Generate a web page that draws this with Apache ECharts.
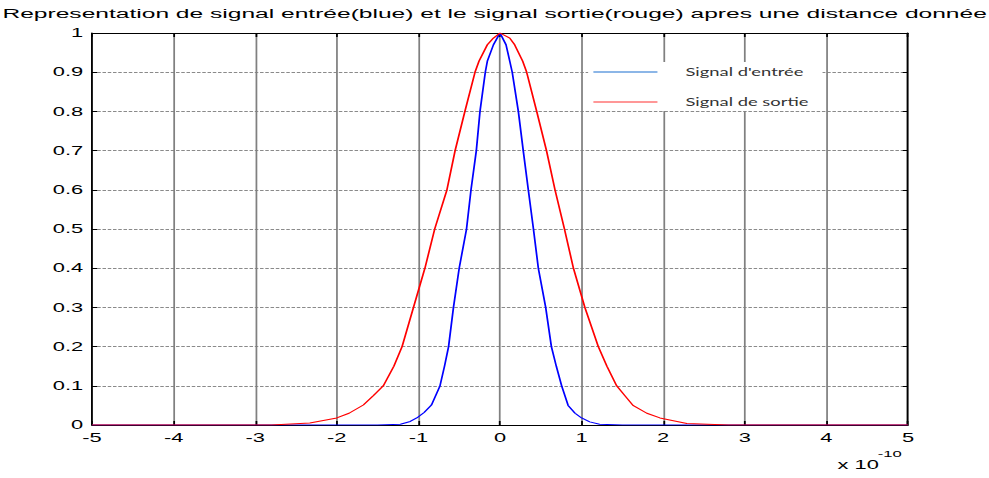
<!DOCTYPE html>
<html>
<head>
<meta charset="utf-8">
<script src="https://cdn.jsdelivr.net/npm/echarts@6/dist/echarts.min.js"></script>
<style>
html,body{margin:0;padding:0;background:#fff;overflow:hidden;}
#wrap{width:989px;height:478px;overflow:hidden;position:relative;}
#c{width:565px;height:478px;transform:scaleX(1.7504);transform-origin:0 0;position:absolute;left:0;top:0;}
</style>
</head>
<body>
<div id="wrap"><div id="c"></div></div>
<script>
// x values in units of 1e-10
const titleText = "Representation de signal entrée(blue) et le signal sortie(rouge) apres une distance donnée";
const seriesNames = ["Signal d'entrée", "Signal de sortie"];
const xTicks = [-5, -4, -3, -2, -1, 0, 1, 2, 3, 4, 5];
const yTicks = [0, 0.1, 0.2, 0.3, 0.4, 0.5, 0.6, 0.7, 0.8, 0.9, 1];

const inputX = [-5, -1.5, -1.22, -1.1, -1.02, -0.93, -0.84, -0.735, -0.68, -0.63, -0.57, -0.5, -0.41, -0.355, -0.29, -0.245, -0.18, -0.155, -0.08, 0, 0.074, 0.12, 0.15, 0.225, 0.285, 0.347, 0.41, 0.47, 0.56, 0.63, 0.69, 0.756, 0.835, 0.92, 1.0, 1.1, 1.22, 1.5, 5];
const inputY = [0, 0, 0.002, 0.009, 0.018, 0.032, 0.051, 0.1, 0.15, 0.2, 0.3, 0.4, 0.5, 0.6, 0.7, 0.8, 0.9, 0.928, 0.97, 1.0, 0.97, 0.928, 0.9, 0.8, 0.7, 0.6, 0.5, 0.4, 0.3, 0.2, 0.15, 0.1, 0.05, 0.03, 0.018, 0.008, 0.002, 0, 0];

const outputX = [-5, -2.8, -2.33, -2.0, -1.85, -1.675, -1.55, -1.43, -1.3, -1.2, -1.06, -0.92, -0.8, -0.65, -0.55, -0.43, -0.306, -0.257, -0.155, -0.08, 0, 0.12, 0.18, 0.278, 0.327, 0.45, 0.57, 0.674, 0.79, 0.9, 1.04, 1.205, 1.31, 1.43, 1.53, 1.63, 1.8, 1.96, 2.29, 2.8, 5];
const outputY = [0, 0, 0.005, 0.018, 0.03, 0.051, 0.075, 0.1, 0.15, 0.2, 0.3, 0.4, 0.5, 0.6, 0.7, 0.8, 0.9, 0.928, 0.97, 0.987, 1.0, 0.987, 0.97, 0.928, 0.9, 0.8, 0.7, 0.6, 0.5, 0.4, 0.3, 0.2, 0.15, 0.1, 0.075, 0.05, 0.03, 0.018, 0.004, 0, 0];

const zip = (xs, ys) => xs.map((x, i) => [x, ys[i]]);
const FONT = "'Liberation Sans', Arial, sans-serif";

const chart = echarts.init(document.getElementById('c'), null, {renderer: 'svg'});
const axisCommon = {
  type: 'value',
  axisLine: {show: true, onZero: false, lineStyle: {color: '#000', width: 1}},
  axisTick: {show: true, inside: true, lineStyle: {color: '#000'}}
};
chart.setOption({
  animation: false,
  backgroundColor: '#fff',
  grid: {left: 52.56, right: 46.28, top: 33, bottom: 53, containLabel: false},
  legend: {
    data: [
      {name: seriesNames[0], itemStyle: {color: '#1a6fd0'}},
      {name: seriesNames[1], itemStyle: {color: '#ff3030'}}
    ],
    orient: 'vertical', left: 336, top: 62,
    icon: 'rect', itemWidth: 36.6, itemHeight: 1.2, itemGap: 16,
    padding: [3, 8, 2, 3], backgroundColor: '#fff',
    textStyle: {fontFamily: "Lato, 'Open Sans', sans-serif", fontSize: 10.5, color: '#333', lineHeight: 14, padding: [0, 0, 0, 11]}
  },
  xAxis: [
    Object.assign({}, axisCommon, {
      min: xTicks[0], max: xTicks[xTicks.length - 1], interval: 1, position: 'bottom',
      axisTick: {show: true, inside: true, length: 4, lineStyle: {color: '#000'}},
      axisLabel: {show: true, margin: 6, fontFamily: FONT, fontSize: 12.5, color: '#000'},
      splitLine: {show: true, lineStyle: {color: '#808080', width: 1, type: 'solid'}}
    }),
    Object.assign({}, axisCommon, {
      min: xTicks[0], max: xTicks[xTicks.length - 1], interval: 1, position: 'top',
      axisTick: {show: true, inside: true, length: 4, lineStyle: {color: '#000'}},
      axisLabel: {show: false}, splitLine: {show: false}
    })
  ],
  yAxis: [
    Object.assign({}, axisCommon, {
      min: yTicks[0], max: yTicks[yTicks.length - 1], interval: 0.1, position: 'left',
      axisTick: {show: true, inside: true, length: 3, lineStyle: {color: '#000'}},
      axisLabel: {show: true, margin: 5, fontFamily: FONT, fontSize: 12.5, color: '#000'},
      splitLine: {show: true, lineStyle: {color: '#8a8a8a', width: 1, type: [2, 1]}}
    }),
    Object.assign({}, axisCommon, {
      min: yTicks[0], max: yTicks[yTicks.length - 1], interval: 0.1, position: 'right',
      axisTick: {show: true, inside: true, length: 3, lineStyle: {color: '#000'}},
      axisLabel: {show: false}, splitLine: {show: false}
    })
  ],
  series: [
    {name: seriesNames[0], type: 'line', data: zip(inputX, inputY), showSymbol: false, symbol: 'none',
     color: '#0000ff', lineStyle: {color: '#0000ff', width: 1}, z: 3},
    {name: seriesNames[1], type: 'line', data: zip(outputX, outputY), showSymbol: false, symbol: 'none',
     color: '#ff0000', lineStyle: {color: '#ff0000', width: 1}, z: 4}
  ],
  graphic: [
    {type: 'text', x: 282.6, y: 7, scaleX: 1.123, scaleY: 1,
     style: {text: titleText, x: 0, y: 0, textAlign: 'center', textVerticalAlign: 'top', align: 'center', verticalAlign: 'top',
             fontFamily: FONT, fontSize: 12.5, fill: '#000'}},
    {type: 'text', left: 478.5, top: 458, style: {text: 'x 10', fontFamily: FONT, fontSize: 12.5, fill: '#000'}},
    {type: 'text', left: 501.5, top: 449, style: {text: '-10', fontFamily: FONT, fontSize: 9.5, fill: '#000'}}
  ]
});
</script>
</body>
</html>
